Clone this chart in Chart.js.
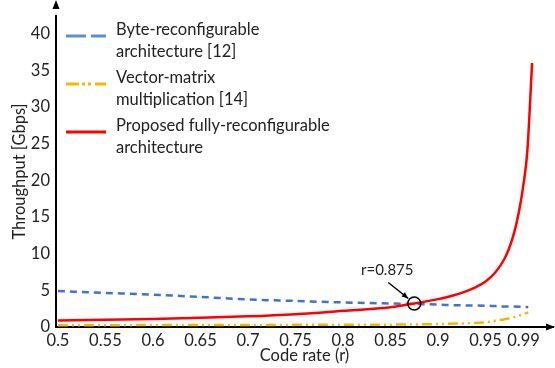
<!DOCTYPE html>
<html>
<head>
<meta charset="utf-8">
<script src="https://cdn.jsdelivr.net/npm/chart.js@4.4.1/dist/chart.umd.min.js"></script>
<style>
  html, body { margin: 0; padding: 0; background: #fff; }
  #wrap { width: 555px; height: 368px; position: relative; }
</style>
</head>
<body>
<div id="wrap"><canvas id="throughputChart"></canvas></div>
<script>
// code rates and throughput values (Gbps)
const rates = [0.5, 0.55, 0.6, 0.65, 0.7, 0.75, 0.8, 0.85, 0.875, 0.9, 0.925, 0.95, 0.96, 0.97, 0.98, 0.99, 0.995];
const byteReconf = [4.9, 4.65, 4.4, 4.1, 3.75, 3.55, 3.35, 3.2, 3.15, 3.05, 2.95, 2.9, 2.85, 2.8, 2.8, 2.75, 2.7];
const vectorMatrix = [0.25, 0.25, 0.26, 0.27, 0.28, 0.29, 0.3, 0.32, 0.35, 0.4, 0.48, 0.65, 0.85, 1.05, 1.35, 1.75, 2.0];

const proposedRates = [0.5, 0.55, 0.6, 0.65, 0.7, 0.75, 0.8, 0.85, 0.875, 0.9, 0.91, 0.92, 0.93, 0.94, 0.95, 0.96, 0.97, 0.975, 0.98, 0.985, 0.99, 0.994, 0.999];
const proposed = [0.9, 1.0, 1.1, 1.25, 1.45, 1.75, 2.2, 2.7, 3.2, 3.8, 4.1, 4.45, 4.9, 5.45, 6.2, 7.4, 9.3, 10.8, 12.8, 15.6, 19.5, 24, 36];

const xTicks = [0.5, 0.55, 0.6, 0.65, 0.7, 0.75, 0.8, 0.85, 0.9, 0.95, 0.99];
const yTicks = [0, 5, 10, 15, 20, 25, 30, 35, 40];

const legendLabels = [
  ["Byte-reconfigurable", "architecture [12]"],
  ["Vector-matrix", "multiplication [14]"],
  ["Proposed fully-reconfigurable", "architecture"]
];

const crossRate = 0.875;
const crossValue = 3.2;

const FONT = "Lato, 'Open Sans', sans-serif";
const BLUE = "#4472c4";
const GOLD = "#f5b800";
const RED = "#ff0000";

function pts(xs, ys) {
  return xs.map((x, i) => ({ x: x, y: ys[i] }));
}

// legend, axis arrows and the r=0.875 marker
const decorPlugin = {
  id: "decor",
  afterDraw(chart) {
    const ctx = chart.ctx;
    const area = chart.chartArea;
    const xs = chart.scales.x;
    const ys = chart.scales.y;
    ctx.save();

    // axis arrows
    ctx.fillStyle = "#000";
    ctx.beginPath();
    ctx.moveTo(area.left, 0);
    ctx.lineTo(area.left - 3.5, 9);
    ctx.lineTo(area.left + 3.5, 9);
    ctx.closePath();
    ctx.fill();
    ctx.beginPath();
    ctx.moveTo(555, area.bottom);
    ctx.lineTo(546, area.bottom - 3.5);
    ctx.lineTo(546, area.bottom + 3.5);
    ctx.closePath();
    ctx.fill();

    // legend
    const samples = [
      { color: "#5b8fd0", dash: [20, 5], width: 3 },
      { color: GOLD, dash: [13, 3, 3, 3, 3, 4], width: 3 },
      { color: RED, dash: [], width: 3 }
    ];
    const textTops = [30, 78, 126];
    ctx.font = "16.5px " + FONT;
    ctx.textBaseline = "middle";
    ctx.textAlign = "left";
    legendLabels.forEach((lines, i) => {
      const s = samples[i];
      const sy = textTops[i] + 6;
      ctx.strokeStyle = s.color;
      ctx.lineWidth = s.width;
      ctx.setLineDash(s.dash);
      ctx.beginPath();
      ctx.moveTo(66, sy);
      ctx.lineTo(106, sy);
      ctx.stroke();
      ctx.setLineDash([]);
      ctx.fillStyle = "#222";
      lines.forEach((t, j) => {
        ctx.fillText(t, 116, textTops[i] + j * 21.5);
      });
    });

    // crossing marker
    const cx = xs.getPixelForValue(crossRate);
    const cy = ys.getPixelForValue(crossValue);
    ctx.strokeStyle = "#000";
    ctx.lineWidth = 1.5;
    ctx.beginPath();
    ctx.arc(cx, cy, 6.5, 0, Math.PI * 2);
    ctx.stroke();

    const ax0 = cx - 26, ay0 = cy - 21;
    const ax1 = cx - 6, ay1 = cy - 5;
    ctx.beginPath();
    ctx.moveTo(ax0, ay0);
    ctx.lineTo(ax1, ay1);
    ctx.stroke();
    const ang = Math.atan2(ay1 - ay0, ax1 - ax0);
    ctx.fillStyle = "#000";
    ctx.beginPath();
    ctx.moveTo(ax1, ay1);
    ctx.lineTo(ax1 - 7 * Math.cos(ang - 0.4), ay1 - 7 * Math.sin(ang - 0.4));
    ctx.lineTo(ax1 - 7 * Math.cos(ang + 0.4), ay1 - 7 * Math.sin(ang + 0.4));
    ctx.closePath();
    ctx.fill();

    ctx.font = "15px " + FONT;
    ctx.textAlign = "center";
    ctx.fillStyle = "#222";
    ctx.fillText("r=" + crossRate, cx - 27, cy - 33);
    ctx.restore();
  }
};

new Chart(document.getElementById("throughputChart"), {
  type: "line",
  data: {
    datasets: [
      {
        label: "Proposed fully-reconfigurable architecture",
        data: pts(proposedRates, proposed),
        borderColor: RED,
        borderWidth: 2.5,
        pointRadius: 0,
        cubicInterpolationMode: "monotone",
        fill: false
      },
      {
        label: "Byte-reconfigurable architecture [12]",
        data: pts(rates, byteReconf),
        borderColor: BLUE,
        borderWidth: 2.5,
        borderDash: [7, 5],
        pointRadius: 0,
        cubicInterpolationMode: "monotone",
        fill: false
      },
      {
        label: "Vector-matrix multiplication [14]",
        data: pts(rates, vectorMatrix),
        borderColor: GOLD,
        borderWidth: 2.5,
        borderDash: [10, 4, 2, 4, 2, 4],
        pointRadius: 0,
        cubicInterpolationMode: "monotone",
        fill: false
      }
    ]
  },
  options: {
    responsive: true,
    maintainAspectRatio: false,
    animation: false,
    layout: { padding: { left: 0, right: 2, top: 5, bottom: 0 } },
    plugins: {
      legend: { display: false },
      tooltip: { enabled: false }
    },
    scales: {
      x: {
        type: "linear",
        min: 0.498,
        max: 1.021,
        afterBuildTicks: axis => { axis.ticks = xTicks.map(v => ({ value: v })); },
        afterFit: scale => { scale.height = 41; },
        grid: { display: false, drawTicks: false },
        border: { color: "#000", width: 2 },
        ticks: {
          autoSkip: false,
          maxRotation: 0,
          padding: 4,
          color: "#222",
          font: { family: FONT, size: 16.5 },
          callback: v => String(v)
        },
        title: {
          display: true,
          text: "Code rate (r)",
          color: "#222",
          font: { family: FONT, size: 16.5 },
          padding: { top: 0, bottom: 2 }
        }
      },
      y: {
        min: 0,
        max: 42.4,
        afterBuildTicks: axis => { axis.ticks = yTicks.map(v => ({ value: v })); },
        afterFit: scale => { scale.width = 56; },
        grid: { display: false, drawTicks: false },
        border: { color: "#000", width: 2 },
        ticks: {
          padding: 6,
          color: "#222",
          font: { family: FONT, size: 16.5 }
        },
        title: {
          display: true,
          text: "Throughput [Gbps]",
          color: "#222",
          font: { family: FONT, size: 16.5 },
          padding: { top: 10, bottom: 0 }
        }
      }
    }
  },
  plugins: [decorPlugin]
});
</script>
</body>
</html>
